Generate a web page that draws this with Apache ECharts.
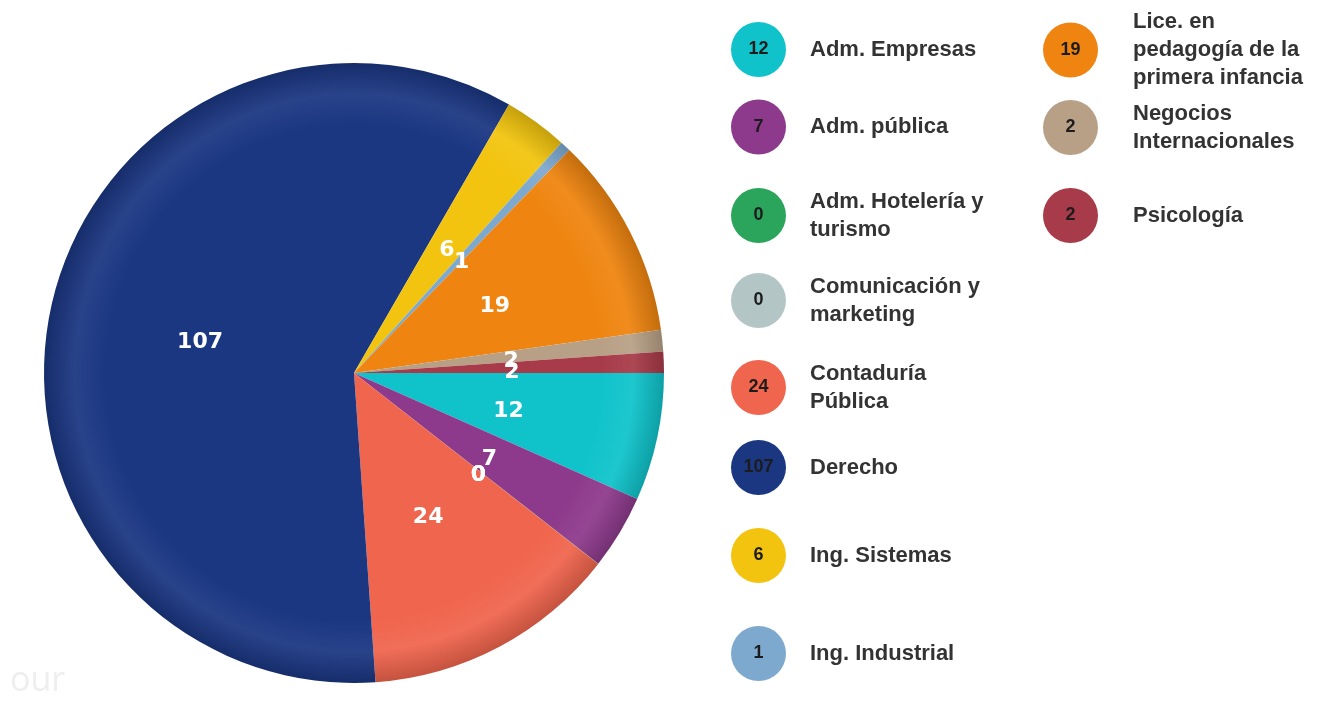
<!DOCTYPE html>
<html>
<head>
<meta charset="utf-8">
<script src="https://cdn.jsdelivr.net/npm/echarts@6/dist/echarts.min.js"></script>
<style>
html,body{margin:0;padding:0;background:#fff;}
#chart{width:1318px;height:704px;}
</style>
</head>
<body>
<div id="chart"></div>
<script>
// ---- data ----
const categories = ['Adm. Empresas','Adm. pública','Adm. Hotelería y turismo','Comunicación y marketing','Contaduría Pública','Derecho','Ing. Sistemas','Ing. Industrial','Lice. en pedagogía de la primera infancia','Negocios Internacionales','Psicología'];
const values = [12, 7, 0, 0, 24, 107, 6, 1, 19, 2, 2];
const legendLabels = ['Adm. Empresas','Adm. pública','Adm. Hotelería y\nturismo','Comunicación y\nmarketing','Contaduría\nPública','Derecho','Ing. Sistemas','Ing. Industrial','Lice. en\npedagogía de la\nprimera infancia','Negocios\nInternacionales','Psicología'];
const colors = ['#10c3cb','#8e3a8c','#2aa55b','#b3c5c5','#f0654d','#1b3782','#f2c40f','#7ea9cf','#ef8510','#b8a086','#a83b49'];

// ---- layout (style only) ----
const pieCenter = [354, 373];
const pieRadius = 310;
const legendSlots = [[731,49.5],[731,127],[731,215.5],[731,300.5],[731,387.5],[731,467.5],[731,555.5],[731,653.5],[1043,50],[1043,127.5],[1043,215.5]];
const iconSize = 55;
const lineH = 28;

function shade(hex, amt){
  const n = parseInt(hex.slice(1),16);
  let r=(n>>16)&255,g=(n>>8)&255,b=n&255;
  const f = c => Math.max(0,Math.min(255,Math.round(amt<0 ? c*(1+amt) : c+(255-c)*amt)));
  return 'rgb('+f(r)+','+f(g)+','+f(b)+')';
}

const chart = echarts.init(document.getElementById('chart'));

const pieData = categories.map((name,i)=>({
  name: name,
  value: values[i],
  itemStyle: {
    color: {
      type:'radial', x: pieCenter[0], y: pieCenter[1], r: pieRadius, global: true,
      colorStops: [
        {offset:0, color: colors[i]},
        {offset:0.8, color: colors[i]},
        {offset:0.9, color: shade(colors[i], 0.06)},
        {offset:1, color: shade(colors[i], -0.18)}
      ]
    }
  }
}));

const legends = categories.map((name,i)=>{
  const nLines = legendLabels[i].split('\n').length;
  const h = Math.max(iconSize, nLines*lineH);
  const col2 = legendSlots[i][0] > 900;
  return {
    data: [{name: name, icon: 'circle', itemStyle: {color: colors[i]}}],
    left: legendSlots[i][0],
    top: legendSlots[i][1] - h/2,
    orient: 'vertical',
    padding: 0,
    itemWidth: iconSize,
    itemHeight: iconSize,
    selectedMode: false,
    formatter: () => legendLabels[i],
    textStyle: {
      fontFamily: 'Liberation Sans, Arial, sans-serif',
      fontSize: 22,
      fontWeight: 'bold',
      color: '#333',
      lineHeight: lineH,
      padding: [0,0,0, col2 ? 30 : 19]
    }
  };
});

const numberTexts = categories.map((name,i)=>({
  type: 'text',
  x: legendSlots[i][0] + iconSize/2,
  y: legendSlots[i][1],
  style: {
    text: String(values[i]),
    x: 0, y: 0,
    textAlign: 'center',
    textVerticalAlign: 'middle',
    font: 'bold 18px "Liberation Sans", Arial, sans-serif',
    fill: '#1c1c1c'
  },
  z: 100
}));

chart.setOption({
  animation: false,
  backgroundColor: '#ffffff',
  legend: legends,
  graphic: [
    {type:'text', left: 10, top: 664, style:{text:'our', font:'34px "Open Sans", sans-serif', fill:'#eeeeee'}},
    ...numberTexts
  ],
  series: [{
    type: 'pie',
    center: pieCenter,
    radius: pieRadius,
    startAngle: 0,
    clockwise: true,
    minAngle: 0.01,
    avoidLabelOverlap: false,
    labelLayout: {hideOverlap: false},
    emphasis: {scale: false},
    label: {
      show: true,
      position: 'inside',
      formatter: '{c}',
      color: '#ffffff',
      fontFamily: 'DejaVu Sans, sans-serif',
      fontWeight: 'bold',
      fontSize: 22,
      offset: [0, 5]
    },
    labelLine: {show:false},
    data: pieData
  }]
});
</script>
</body>
</html>
